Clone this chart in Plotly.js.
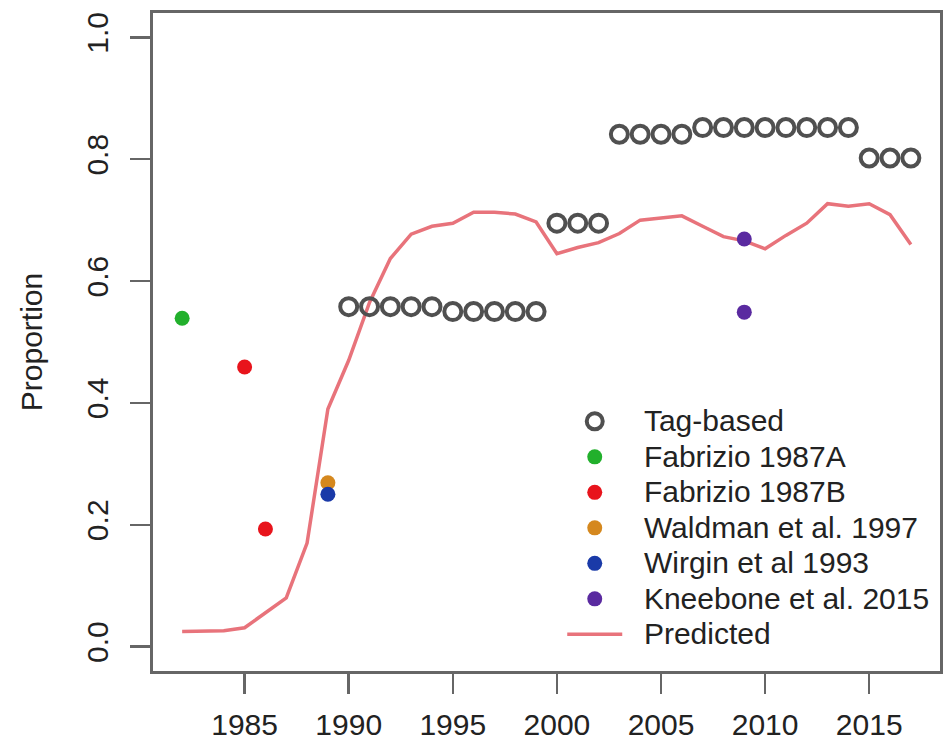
<!DOCTYPE html>
<html>
<head>
<meta charset="utf-8">
<script src="https://cdn.plot.ly/plotly-3.0.1.min.js"></script>
<style>
  html, body { margin: 0; padding: 0; background: #ffffff; }
  #chart { width: 950px; height: 742px; }
</style>
</head>
<body>
<div id="chart"></div>
<script>
// ---- data ----
const tagYears = [1990, 1991, 1992, 1993, 1994, 1995, 1996, 1997, 1998, 1999,
                  2000, 2001, 2002, 2003, 2004, 2005, 2006, 2007, 2008, 2009,
                  2010, 2011, 2012, 2013, 2014, 2015, 2016, 2017];
const tagValues = [0.558, 0.558, 0.558, 0.558, 0.558, 0.550, 0.550, 0.550, 0.550, 0.550,
                   0.695, 0.695, 0.695, 0.841, 0.841, 0.841, 0.841, 0.852, 0.852, 0.852,
                   0.852, 0.852, 0.852, 0.852, 0.852, 0.802, 0.802, 0.802];

const fabrizioAYears = [1982];
const fabrizioAValues = [0.539];
const fabrizioBYears = [1985, 1986];
const fabrizioBValues = [0.459, 0.193];
const waldmanYears = [1989];
const waldmanValues = [0.269];
const wirginYears = [1989];
const wirginValues = [0.250];
const kneeboneYears = [2009, 2009];
const kneeboneValues = [0.669, 0.549];

const predYears = [1982, 1983, 1984, 1985, 1986, 1987, 1988, 1989, 1990, 1991,
                   1992, 1993, 1994, 1995, 1996, 1997, 1998, 1999, 2000, 2001,
                   2002, 2003, 2004, 2005, 2006, 2007, 2008, 2009, 2010, 2011,
                   2012, 2013, 2014, 2015, 2016, 2017];
const predValues = [0.025, 0.025, 0.026, 0.031, 0.055, 0.080, 0.170, 0.390, 0.470, 0.565,
                    0.637, 0.677, 0.690, 0.695, 0.713, 0.713, 0.710, 0.697, 0.645, 0.655,
                    0.663, 0.678, 0.700, 0.703, 0.707, 0.690, 0.673, 0.666, 0.653, 0.675,
                    0.695, 0.727, 0.723, 0.727, 0.709, 0.660];

const xTicks = [1985, 1990, 1995, 2000, 2005, 2010, 2015];
const yTicks = [0.0, 0.2, 0.4, 0.6, 0.8, 1.0];
const yTickText = ["0.0", "0.2", "0.4", "0.6", "0.8", "1.0"];

const seriesNames = ["Tag-based", "Fabrizio 1987A", "Fabrizio 1987B",
                     "Waldman et al. 1997", "Wirgin et al 1993",
                     "Kneebone et al. 2015", "Predicted"];

// ---- styling ----
const FONT = "Liberation Sans, Arial, sans-serif";
const TXT = "#222222";
const AX = "#666666";

// legend labels drawn at 30px while rows keep the tighter R spacing
function legendLabel(s) {
  return '<span style="font-size:30px">&nbsp;&nbsp;' + s + '</span>';
}

function dots(idx, x, y, color) {
  return {
    type: "scatter", mode: "markers", name: legendLabel(seriesNames[idx]), x: x, y: y,
    marker: { symbol: "circle", size: 15, color: color, line: { width: 0 } },
    legendrank: idx + 1, cliponaxis: false
  };
}

const traces = [
  {
    type: "scatter", mode: "lines", name: legendLabel(seriesNames[6]),
    x: predYears, y: predValues,
    line: { color: "#E8737B", width: 3.5 },
    legendrank: 7
  },
  {
    type: "scatter", mode: "markers", name: legendLabel(seriesNames[0]),
    x: tagYears, y: tagValues,
    marker: { symbol: "circle-open", size: 17, color: "#505050", line: { width: 4, color: "#505050" } },
    legendrank: 1
  },
  dots(1, fabrizioAYears, fabrizioAValues, "#22B02C"),
  dots(2, fabrizioBYears, fabrizioBValues, "#E8141C"),
  dots(3, waldmanYears, waldmanValues, "#D5881E"),
  dots(4, wirginYears, wirginValues, "#1A3AA8"),
  dots(5, kneeboneYears, kneeboneValues, "#5A2AA0")
];

const layout = {
  width: 950, height: 742,
  paper_bgcolor: "#ffffff", plot_bgcolor: "#ffffff",
  margin: { l: 153, r: 10, t: 13, b: 71, pad: 0 },
  font: { family: FONT, size: 30, color: TXT },
  showlegend: true,
  legend: {
    x: 0.52, y: 0.414, xanchor: "left", yanchor: "top",
    bgcolor: "rgba(0,0,0,0)", borderwidth: 0,
    font: { family: FONT, size: 25, color: TXT },
    itemwidth: 55,
    traceorder: "normal"
  },
  xaxis: {
    range: [1980.6, 2018.4],
    tickmode: "array", tickvals: xTicks, ticktext: xTicks.map(String),
    ticks: "outside", ticklen: 20, tickwidth: 2.5, tickcolor: AX,
    ticklabelstandoff: 5,
    tickfont: { family: FONT, size: 30, color: TXT },
    showgrid: false, zeroline: false,
    showline: true, mirror: true, linecolor: AX, linewidth: 3
  },
  yaxis: {
    range: [-0.04, 1.04],
    tickmode: "array", tickvals: yTicks, ticktext: yTickText,
    tickangle: -90,
    ticks: "outside", ticklen: 20, tickwidth: 2.5, tickcolor: AX,
    ticklabelstandoff: 10,
    tickfont: { family: FONT, size: 30, color: TXT },
    showgrid: false, zeroline: false,
    showline: true, mirror: true, linecolor: AX, linewidth: 3,
    title: { text: "Proportion", font: { family: FONT, size: 30, color: TXT }, standoff: 30 }
  }
};

Plotly.newPlot("chart", traces, layout, { staticPlot: true, displayModeBar: false });
</script>
</body>
</html>
